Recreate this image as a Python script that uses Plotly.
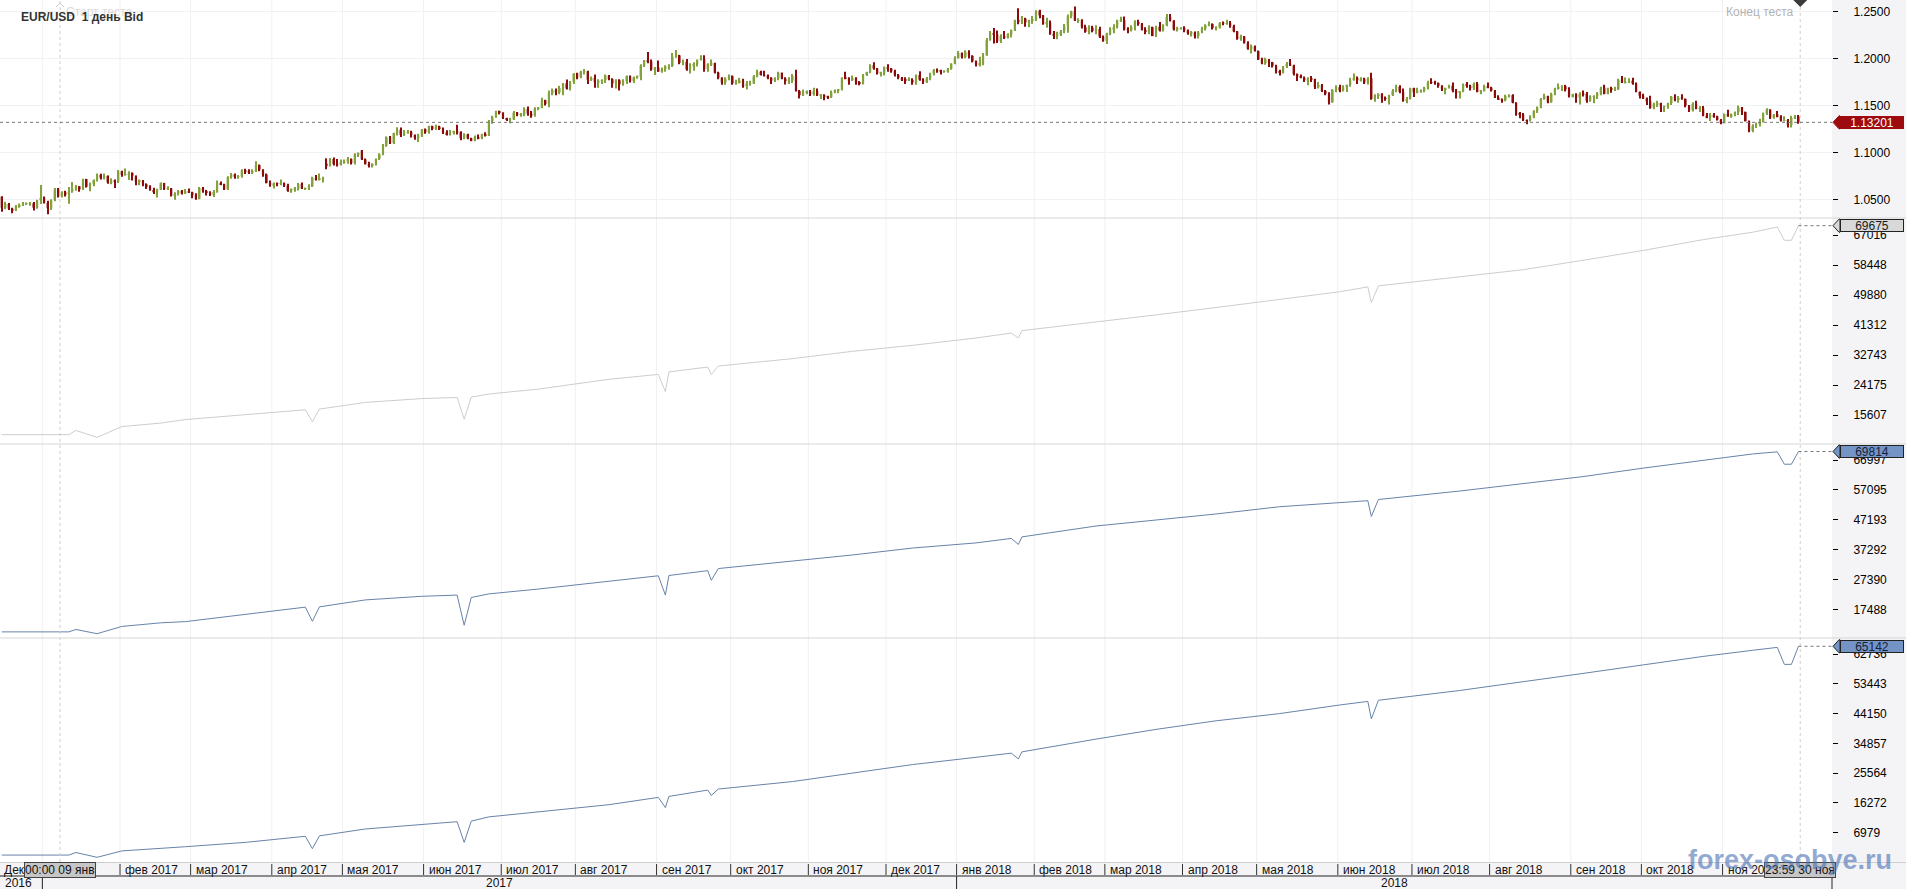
import numpy as np
import pandas as pd
import plotly.graph_objects as go

# ---------------- data ----------------
# Daily EUR/USD bars (prices in 1/10000), 15 Dec 2016 .. 30 Nov 2018, one line per month
opens = [
 10530,10410,10450,10400,10384,10428,10438,10455,10455,10457,10410,10490,
 10517,10460,10405,10490,10605,10530,10575,10555,10585,10612,10640,10605,10715,10634,10662,10705,10760,10728,10750,10680,10697,10690,
 10798,10760,10763,10782,10750,10685,10700,10660,10640,10600,10575,10605,10675,10615,10618,10540,10560,10590,10560,10585,
 10575,10545,10505,10620,10585,10570,10545,10580,10670,10660,10605,10735,10765,10740,10745,10810,10795,10785,10800,10865,10815,10765,10675,
 10650,10670,10665,10670,10645,10590,10600,10610,10665,10615,10620,10640,10730,10715,10720,10880,10855,10930,10875,10872,
 10895,10905,10930,10885,10980,11020,10925,10875,10865,10870,10930,10980,11075,11160,11100,11205,11240,11185,11210,11215,11185,11160,11180,
 11245,11215,11280,11250,11275,11255,11210,11195,11210,11220,11215,11150,11195,11150,11130,11165,11150,11195,11180,11335,11375,11440,
 11425,11365,11350,11352,11425,11400,11402,11465,11415,11395,11470,11475,11555,11515,11630,11665,11640,11685,11735,11680,11750,
 11840,11800,11860,11865,11775,11795,11750,11765,11770,11820,11780,11735,11770,11725,11760,11815,11760,11800,11805,11925,11980,11970,11885,
 11905,11860,11890,11915,11920,12020,12035,11955,11965,11885,11920,11945,11985,11995,11890,11940,11950,11850,11795,11745,11785,
 11815,11735,11745,11765,11705,11730,11735,11810,11860,11825,11820,11795,11765,11790,11850,11785,11760,11765,11815,11655,11610,11640,
 11645,11620,11655,11610,11612,11590,11588,11640,11665,11668,11795,11790,11770,11795,11745,11735,11825,11855,11930,11895,11845,11848,
 11905,11895,11865,11825,11795,11775,11770,11772,11745,11825,11775,11750,11785,11840,11875,11870,11860,11862,11890,11945,
 12005,12060,12015,12070,12030,11970,11935,11950,12035,12200,12265,12260,12185,12240,12220,12260,12300,12410,12395,12425,12385,12410,
 12415,12510,12460,12370,12380,12265,12250,12255,12290,12350,12450,12505,12405,12410,12335,12285,12330,12295,12315,12235,
 12190,12265,12315,12335,12405,12410,12310,12305,12335,12390,12370,12305,12285,12335,12240,12340,12300,12355,12445,12405,12310,12320,
 12325,12300,12270,12275,12240,12280,12320,12355,12370,12325,12330,12380,12375,12378,12345,12290,12210,12235,12165,12105,12130,
 12080,11990,11950,11990,11960,11925,11865,11850,11915,11945,11925,11835,11810,11795,11770,11790,11780,11695,11720,11655,11625,11535,11665,
 11695,11660,11695,11720,11775,11795,11770,11785,11745,11790,11570,11610,11625,11575,11570,11610,11655,11700,11645,11555,11570,
 11685,11640,11655,11658,11690,11745,11743,11740,11710,11670,11685,11710,11660,11640,11645,11720,11710,11685,11730,11645,11655,11705,
 11690,11660,11585,11565,11555,11600,11610,11530,11410,11405,11345,11342,11375,11440,11480,11570,11600,11535,11625,11680,11700,11705,11670,
 11600,11620,11585,11625,11622,11550,11595,11600,11625,11690,11625,11685,11670,11672,11775,11745,11748,11765,11735,11645,
 11605,11575,11545,11475,11515,11525,11490,11492,11525,11595,11560,11580,11570,11500,11450,11515,11465,11470,11390,11375,11400,11385,11345,
 11310,11410,11385,11405,11430,11480,11430,11335,11230,11285,11305,11325,11415,11455,11370,11405,11385,11340,11345,11290,11365,11385,
]
highs = [
 10530,10475,10460,10410,10440,10455,10470,10465,10470,10470,10495,10652,
 10530,10485,10500,10620,10620,10585,10590,10630,10685,10652,10640,10720,10718,10680,10710,10775,10772,10775,10755,10725,10710,10812,
 10805,10829,10800,10785,10753,10710,10705,10670,10650,10623,10612,10680,10675,10640,10620,10575,10600,10600,10610,10615,
 10580,10565,10630,10630,10600,10585,10600,10700,10690,10665,10745,10780,10775,10760,10820,10825,10820,10820,10906,10870,10820,10775,10700,
 10680,10680,10710,10680,10665,10615,10630,10675,10680,10625,10660,10740,10760,10775,10740,10937,10940,10945,10930,10925,
 10925,10950,10935,10990,11000,11025,10935,10900,10885,10935,10990,11090,11170,11175,11210,11268,11265,11240,11240,11230,11190,11200,11250,
 11255,11285,11285,11295,11285,11265,11235,11240,11230,11295,11225,11205,11200,11155,11180,11190,11200,11215,11345,11390,11445,11445,
 11425,11370,11370,11440,11430,11420,11480,11490,11440,11480,11485,11583,11560,11660,11680,11680,11710,11740,11777,11760,11845,
 11848,11870,11890,11870,11810,11830,11780,11780,11830,11825,11790,11780,11780,11780,11820,11820,11810,11820,11940,11985,12070,11990,11910,
 11980,11905,11930,11940,12060,12092,12040,11990,11995,11950,11960,11990,12035,12035,11950,11990,11955,11860,11800,11800,11830,
 11820,11775,11795,11785,11760,11765,11825,11880,11870,11870,11830,11800,11800,11860,11850,11800,11800,11835,11880,11665,11670,11660,
 11665,11690,11680,11615,11620,11605,11660,11670,11675,11800,11860,11800,11820,11800,11760,11835,11860,11940,11960,11900,11860,11915,
 11940,11900,11880,11835,11805,11800,11800,11790,11830,11865,11790,11805,11850,11890,11895,11880,11875,11900,11950,12025,
 12080,12065,12090,12090,12035,11980,12020,12060,12220,12295,12325,12300,12260,12295,12270,12310,12415,12537,12455,12435,12415,12455,
 12515,12520,12465,12435,12405,12295,12285,12305,12370,12470,12510,12555,12430,12420,12360,12355,12350,12355,12340,12245,
 12275,12335,12365,12415,12445,12450,12335,12355,12410,12415,12380,12335,12355,12340,12350,12390,12365,12475,12475,12410,12340,12335,
 12345,12310,12295,12290,12295,12340,12365,12395,12375,12345,12390,12395,12415,12400,12360,12295,12255,12240,12185,12150,12140,
 12085,12010,12010,11995,11965,11935,11880,11920,11965,11995,11935,11840,11830,11810,11800,11815,11785,11750,11730,11665,11640,11675,11715,
 11720,11715,11720,11795,11840,11810,11800,11795,11800,11850,11620,11630,11630,11595,11615,11675,11720,11715,11680,11590,11690,
 11690,11690,11670,11700,11765,11790,11765,11745,11715,11690,11720,11745,11675,11650,11735,11750,11720,11745,11750,11665,11720,11745,
 11700,11665,11610,11575,11615,11620,11620,11535,11430,11420,11350,11395,11450,11490,11580,11625,11605,11635,11690,11735,11715,11720,11695,
 11625,11630,11640,11660,11645,11610,11610,11645,11700,11720,11690,11700,11700,11785,11815,11800,11790,11795,11745,11650,
 11625,11585,11605,11530,11550,11530,11500,11530,11600,11620,11600,11620,11575,11505,11535,11550,11495,11495,11420,11420,11420,11390,11355,
 11415,11455,11415,11435,11500,11485,11435,11340,11300,11320,11360,11425,11470,11460,11410,11440,11395,11385,11355,11390,11400,11400,
]
lows = [
 10366,10395,10385,10352,10375,10410,10430,10440,10430,10380,10400,10450,
 10455,10340,10385,10480,10520,10520,10530,10453,10570,10592,10580,10600,10625,10587,10640,10690,10710,10710,10665,10660,10620,10675,
 10740,10750,10705,10700,10650,10650,10640,10610,10590,10557,10520,10600,10600,10600,10530,10494,10540,10550,10560,10570,
 10510,10495,10500,10570,10540,10535,10525,10570,10650,10600,10600,10720,10720,10720,10730,10770,10770,10770,10790,10800,10740,10670,10635,
 10615,10640,10650,10630,10580,10570,10580,10595,10610,10605,10600,10630,10700,10700,10680,10820,10850,10860,10850,10860,
 10880,10880,10870,10870,10950,10920,10870,10840,10840,10860,10920,10970,11060,11090,11090,11180,11165,11175,11200,11160,11135,11110,11165,
 11200,11200,11235,11240,11240,11195,11180,11180,11190,11190,11130,11140,11140,11120,11120,11140,11140,11170,11175,11305,11370,11405,
 11355,11335,11312,11345,11385,11380,11385,11390,11370,11380,11450,11470,11500,11480,11610,11610,11620,11610,11670,11660,11730,
 11780,11790,11830,11730,11760,11690,11690,11730,11740,11770,11690,11680,11660,11710,11730,11745,11740,11785,11770,11910,11950,11870,11825,
 11860,11850,11860,11880,11910,12010,11940,11930,11870,11840,11870,11915,11980,11860,11860,11920,11840,11780,11720,11720,11770,
 11720,11720,11735,11690,11670,11710,11730,11800,11820,11810,11780,11730,11750,11770,11780,11725,11730,11740,11650,11575,11600,11620,
 11600,11605,11600,11570,11555,11570,11580,11630,11630,11660,11780,11720,11760,11720,11715,11725,11815,11845,11880,11830,11810,11820,
 11860,11850,11810,11780,11760,11730,11760,11720,11720,11765,11730,11740,11770,11820,11850,11830,11850,11850,11880,11940,
 12000,12000,12005,12000,11960,11915,11915,11930,12030,12190,12160,12165,12165,12210,12215,12225,12295,12365,12370,12340,12335,12370,
 12400,12430,12360,12330,12255,12210,12205,12240,12270,12275,12430,12400,12380,12320,12275,12260,12280,12260,12220,12180,
 12155,12250,12270,12320,12390,12300,12270,12290,12300,12350,12300,12260,12260,12240,12230,12290,12290,12345,12395,12300,12290,12310,
 12280,12255,12235,12215,12215,12270,12300,12345,12310,12300,12320,12355,12360,12330,12280,12200,12190,12160,12095,12055,12075,
 11985,11940,11935,11910,11905,11840,11820,11840,11900,11920,11820,11760,11790,11750,11715,11750,11675,11680,11645,11610,11510,11530,11640,
 11640,11650,11645,11700,11765,11730,11755,11730,11725,11560,11540,11570,11530,11550,11510,11600,11640,11630,11540,11525,11565,
 11590,11630,11635,11640,11670,11730,11720,11690,11655,11620,11680,11640,11575,11575,11640,11690,11660,11665,11640,11620,11650,11685,
 11650,11580,11560,11530,11545,11585,11525,11390,11365,11335,11300,11330,11365,11420,11470,11560,11525,11530,11610,11670,11655,11650,11585,
 11585,11530,11510,11595,11530,11540,11525,11570,11610,11620,11620,11635,11655,11665,11740,11735,11745,11720,11640,11575,
 11570,11505,11465,11460,11485,11430,11430,11465,11505,11545,11530,11560,11480,11430,11435,11460,11430,11385,11365,11335,11370,11340,11300,
 11310,11380,11370,11385,11400,11400,11330,11215,11215,11260,11275,11320,11400,11355,11360,11375,11330,11330,11265,11265,11355,11305,
]
closes = [
 10410,10450,10400,10384,10428,10438,10455,10455,10457,10410,10490,10517,
 10460,10405,10490,10605,10530,10575,10555,10585,10612,10640,10605,10715,10634,10662,10705,10760,10728,10750,10680,10697,10690,10798,
 10760,10763,10782,10750,10685,10700,10660,10640,10600,10575,10605,10675,10615,10618,10540,10560,10590,10560,10585,10575,
 10545,10505,10620,10585,10570,10545,10580,10670,10660,10605,10735,10765,10740,10745,10810,10795,10785,10800,10865,10815,10765,10675,10650,
 10670,10665,10670,10645,10590,10600,10610,10665,10615,10620,10640,10730,10715,10720,10725,10855,10930,10875,10872,10895,
 10905,10930,10885,10980,10995,10925,10875,10865,10870,10930,10980,11075,11160,11100,11205,11240,11185,11210,11215,11185,11160,11180,11245,
 11215,11280,11250,11275,11255,11210,11195,11210,11220,11215,11150,11195,11150,11130,11165,11150,11195,11180,11335,11375,11440,11425,
 11365,11350,11352,11425,11400,11402,11465,11415,11395,11470,11475,11555,11515,11630,11665,11640,11685,11735,11680,11750,11840,
 11800,11860,11865,11775,11795,11750,11765,11770,11820,11780,11735,11770,11725,11760,11815,11760,11800,11805,11925,11980,11970,11885,11905,
 11860,11890,11915,11920,12020,12035,11955,11965,11885,11920,11945,11985,11995,11890,11940,11950,11850,11795,11745,11785,11815,
 11735,11745,11765,11705,11730,11735,11810,11860,11825,11820,11795,11765,11790,11850,11785,11760,11765,11815,11655,11610,11640,11645,
 11620,11655,11610,11612,11590,11588,11640,11665,11668,11795,11790,11770,11795,11745,11735,11825,11855,11930,11895,11845,11848,11905,
 11895,11865,11825,11795,11775,11770,11772,11745,11825,11775,11750,11785,11840,11875,11870,11860,11862,11890,11945,12005,
 12060,12015,12070,12030,11970,11935,11950,12035,12200,12265,12260,12185,12240,12220,12260,12300,12410,12395,12425,12385,12410,12415,
 12510,12460,12370,12380,12265,12250,12255,12290,12350,12450,12505,12405,12410,12335,12285,12330,12295,12315,12235,12190,
 12265,12315,12335,12405,12410,12310,12305,12335,12390,12370,12305,12285,12335,12240,12340,12300,12355,12445,12405,12310,12320,12325,
 12300,12270,12275,12240,12280,12320,12355,12370,12325,12330,12380,12375,12378,12345,12290,12210,12235,12165,12105,12130,12080,
 11990,11950,11990,11960,11925,11865,11850,11915,11945,11925,11835,11810,11795,11770,11790,11780,11695,11720,11655,11625,11535,11665,11695,
 11660,11695,11720,11775,11795,11770,11785,11745,11790,11570,11610,11625,11575,11570,11610,11655,11700,11645,11555,11570,11685,
 11640,11655,11658,11690,11745,11743,11740,11710,11670,11685,11710,11660,11640,11645,11720,11710,11685,11730,11645,11655,11705,11690,
 11660,11585,11565,11555,11600,11610,11530,11410,11405,11345,11342,11375,11440,11480,11570,11600,11535,11625,11680,11700,11705,11670,11600,
 11620,11585,11625,11622,11550,11595,11600,11625,11690,11625,11685,11670,11672,11775,11745,11748,11765,11735,11645,11605,
 11575,11545,11475,11515,11525,11490,11492,11525,11595,11560,11580,11570,11500,11450,11515,11465,11470,11390,11375,11400,11385,11345,11310,
 11410,11385,11405,11430,11480,11430,11335,11230,11285,11305,11325,11415,11455,11370,11405,11385,11340,11345,11290,11365,11385,11320,
]
holidays = ["2017-12-25", "2018-01-01"]
first_day, last_day = "2016-12-15", "2018-11-30"

last_price = 1.13201
price_ticks = [1.05, 1.10, 1.15, 1.20, 1.25]

# equity curves (three test runs), sampled on trading-day numbers
eq_day = [0, 19, 21, 27, 34, 45, 52, 69, 83, 86, 88, 90, 103, 119, 129, 131, 133, 138, 152, 162,
          172, 186, 188, 189, 200, 201, 203, 224, 241, 258, 276, 286, 288, 289, 310, 327, 344, 362, 379, 387,
          388, 390, 413, 431, 448, 465, 482, 496, 503, 505, 507, 509]
eq_a = [10000, 10000, 11200, 9200, 12300, 13300, 14300, 15700, 16800, 17100, 13700, 17300, 19200, 20300, 20600, 14400, 20700, 21600, 23000, 24400,
        25800, 27200, 22300, 27900, 29300, 27200, 29600, 31700, 33800, 35500, 37600, 39000, 37600, 39700, 42100, 44200, 46300, 48700, 50800, 52200,
        47700, 52500, 55000, 57100, 59800, 62600, 65700, 67800, 69300, 65500, 65500, 69675]
eq_b = [10000, 10000, 10800, 9400, 11800, 13000, 13400, 15800, 18000, 18200, 13500, 18300, 20600, 21800, 22200, 12200, 21400, 22600, 24200, 25500,
        26600, 28600, 22200, 28700, 30300, 27100, 31000, 33500, 35500, 37800, 39500, 41000, 39000, 41500, 45100, 47100, 49100, 51500, 52700, 53500,
        48300, 53900, 56700, 59100, 61500, 64300, 67000, 69000, 69700, 65600, 65600, 69814]
eq_c = [0, 0, 800, -700, 1300, 2000, 2600, 3955, 5400, 5858, 2000, 6000, 8136, 9500, 10414, 3955, 10600, 11911, 13440, 14500,
        15718, 17995, 14800, 18300, 20273, 18600, 20600, 22925, 25577, 28229, 30506, 31800, 30000, 32200, 36185, 39211, 41894, 44141, 46824, 47947,
        42500, 48300, 51348, 54031, 56683, 59335, 61987, 63890, 64800, 59500, 59500, 65142]
eq_a_ticks = [15607, 24175, 32743, 41312, 49880, 58448, 67016]
eq_b_ticks = [17488, 27390, 37292, 47193, 57095, 66997]
eq_c_ticks = [6979, 16272, 25564, 34857, 44150, 53443, 62736]

month_names = ["янв", "фев", "мар", "апр", "мая", "июн", "июл", "авг", "сен", "окт", "ноя", "дек"]
test_start_day, test_end_day = 17, 509
start_label, end_label = "00:00 09 янв", "23:59 30 ноя"
title_text = "EUR/USD\u00a0\u00a01 день Bid"

# ---------------- layout helpers ----------------
W, H = 1906, 889
PR = 1832                      # right edge of plotting area (px)
FONT = "Liberation Sans, Arial, sans-serif"
GREEN, RED = "#84a23c", "#8c0b0b"
GRID = "#f1f1f3"


def fx(p):
    return p / W


def fy(p):
    return 1 - p / H


dates = [d for d in pd.bdate_range(first_day, last_day) if d.strftime("%Y-%m-%d") not in holidays]
n = min(len(dates), len(opens), len(highs), len(lows), len(closes))
xs = np.arange(n)
o = np.array(opens[:n]) / 1e4
h = np.array(highs[:n]) / 1e4
l = np.array(lows[:n]) / 1e4
c = np.array(closes[:n]) / 1e4
cols = np.where(c >= o, GREEN, RED)
x_lo, x_hi = -0.5, 518.5

fig = go.Figure()
fig.add_trace(go.Bar(x=xs, y=h - l, base=l, width=0.3, marker=dict(color=cols, line=dict(width=0)),
                     xaxis="x", yaxis="y", hoverinfo="skip"))
fig.add_trace(go.Bar(x=xs, y=np.maximum(np.abs(c - o), 0.0003), base=np.minimum(o, c), width=0.62,
                     marker=dict(color=cols, line=dict(width=0)), xaxis="x", yaxis="y", hoverinfo="skip"))
fig.add_trace(go.Scatter(x=eq_day, y=eq_a, mode="lines", line=dict(color="#cdcdcd", width=1),
                         xaxis="x", yaxis="y2", hoverinfo="skip"))
fig.add_trace(go.Scatter(x=eq_day, y=eq_b, mode="lines", line=dict(color="#6783a8", width=1),
                         xaxis="x", yaxis="y3", hoverinfo="skip"))
fig.add_trace(go.Scatter(x=eq_day, y=eq_c, mode="lines", line=dict(color="#6783a8", width=1),
                         xaxis="x", yaxis="y4", hoverinfo="skip"))


def yax(dom, rng, vals, texts, grid=False):
    return dict(domain=dom, range=rng, anchor="x", side="right", tickvals=vals, ticktext=texts,
                ticks="outside", ticklen=5, tickwidth=1, tickcolor="#000", showline=False, zeroline=False,
                showgrid=grid, gridcolor=GRID, gridwidth=1, ticklabelstandoff=13,
                tickfont=dict(family=FONT, size=12, color="#000"), fixedrange=True)


fig.update_layout(
    width=W, height=H, margin=dict(l=0, r=0, t=0, b=0, pad=0),
    paper_bgcolor="#f4f4f7", plot_bgcolor="rgba(0,0,0,0)",
    barmode="overlay", showlegend=False, hovermode=False,
    xaxis=dict(domain=[0, fx(PR)], range=[x_lo, x_hi], anchor="y4", visible=False, fixedrange=True),
    yaxis=yax([fy(218), 1], [1.03006, 1.26247], price_ticks, [f"{v:.4f}" for v in price_ticks], grid=True),
    yaxis2=yax([fy(444), fy(218)], [7325, 71871], eq_a_ticks, [str(v) for v in eq_a_ticks]),
    yaxis3=yax([fy(638), fy(444)], [7971, 72303], eq_b_ticks, [str(v) for v in eq_b_ticks]),
    yaxis4=yax([fy(862), fy(638)], [-2163, 67728], eq_c_ticks, [str(v) for v in eq_c_ticks]),
)

shapes = []
# white chart background
shapes.append(dict(type="rect", xref="paper", yref="paper", x0=0, x1=fx(PR), y0=fy(862), y1=1,
                   fillcolor="#ffffff", line=dict(width=0), layer="below"))
# month boundaries
month_starts = [i for i in range(1, n) if dates[i].month != dates[i - 1].month]
for i in month_starts:
    shapes.append(dict(type="line", xref="x", yref="paper", x0=i - 0.5, x1=i - 0.5, y0=fy(862), y1=1,
                       line=dict(color=GRID, width=1), layer="below"))
# panel separators
for yy in (218, 444, 638):
    shapes.append(dict(type="line", xref="paper", yref="paper", x0=0, x1=1, y0=fy(yy), y1=fy(yy),
                       line=dict(color="#d6d6d6", width=1)))
shapes.append(dict(type="line", xref="paper", yref="paper", x0=0, x1=1, y0=fy(862.5), y1=fy(862.5),
                   line=dict(color="#cfcfcf", width=1)))
# test start / end verticals
for xv in (test_start_day - 0.5, test_end_day + 0.5):
    shapes.append(dict(type="line", xref="x", yref="paper", x0=xv, x1=xv, y0=fy(862), y1=1,
                       line=dict(color="#cfcfcf", width=1, dash="dot")))
# last price / equity dotted lines
shapes.append(dict(type="line", xref="x", yref="y", x0=x_lo, x1=x_hi, y0=last_price, y1=last_price,
                   line=dict(color="#777", width=1, dash="dot")))
for ax, arr in (("y2", eq_a), ("y3", eq_b), ("y4", eq_c)):
    shapes.append(dict(type="line", xref="x", yref=ax, x0=eq_day[-1], x1=x_hi, y0=arr[-1], y1=arr[-1],
                       line=dict(color="#777", width=1, dash="dot")))
# notches of value labels
for ax, val, fill in (("y", last_price, "#9e0b0f"), ("y2", eq_a[-1], "#d9d9d9"),
                      ("y3", eq_b[-1], "#7394c4"), ("y4", eq_c[-1], "#7394c4")):
    edge = fill if ax == "y" else "#222"
    shapes.append(dict(type="path", xref="paper", yref=ax, xsizemode="pixel", ysizemode="pixel",
                       xanchor=fx(PR), yanchor=val, path="M 1,0 L 7,6.5 L 8,6.5 L 8,-6.5 L 7,-6.5 Z",
                       fillcolor=fill, line=dict(color=edge, width=1)))
# end-of-test diamond and start chevron
shapes.append(dict(type="path", xref="x", yref="paper", xsizemode="pixel", ysizemode="pixel",
                   xanchor=test_end_day + 0.5, yanchor=1, path="M -7,0 L 0,7 L 7,0 L 0,-7 Z",
                   fillcolor="#3c3c3c", line=dict(width=0)))
shapes.append(dict(type="path", xref="x", yref="paper", xsizemode="pixel", ysizemode="pixel",
                   xanchor=test_start_day - 0.5, yanchor=fy(2), path="M -4,-5 L 0,-1 L 4,-5",
                   line=dict(color="#c8c8c8", width=1)))
# x-axis rows
for i in month_starts:
    shapes.append(dict(type="line", xref="x", yref="paper", x0=i - 0.5, x1=i - 0.5, y0=fy(875), y1=fy(864),
                       line=dict(color="#333", width=1)))
shapes.append(dict(type="line", xref="paper", yref="paper", x0=0, x1=fx(PR), y0=fy(876), y1=fy(876),
                   line=dict(color="#222", width=1)))
year_starts = [i for i in range(1, n) if dates[i].year != dates[i - 1].year]
for i in year_starts:
    shapes.append(dict(type="line", xref="x", yref="paper", x0=i - 0.5, x1=i - 0.5, y0=fy(889), y1=fy(876),
                       line=dict(color="#222", width=1)))
shapes.append(dict(type="line", xref="paper", yref="paper", x0=fx(PR), x1=fx(PR), y0=fy(889), y1=fy(876),
                   line=dict(color="#222", width=1)))
fig.update_layout(shapes=shapes)

ann = []
small = dict(family=FONT, size=12, color="#111")
ann.append(dict(text="Старт теста", xref="x", yref="paper", x=test_start_day - 0.5, y=fy(12), xshift=4,
                xanchor="left", yanchor="middle", showarrow=False, font=dict(family=FONT, size=12, color="#dadada")))
ann.append(dict(text="<b>" + title_text + "</b>", xref="paper", yref="paper", x=fx(19), y=fy(17),
                xanchor="left", yanchor="middle", showarrow=False,
                font=dict(family=FONT, size=12, color="#333333")))
ann.append(dict(text="Конец теста", xref="x", yref="paper", x=test_end_day + 0.5, y=fy(12), xshift=-4,
                xanchor="right", yanchor="middle", showarrow=False, font=dict(family=FONT, size=12, color="#b4b4b4")))
# value labels
for ax, val, txt, fill, tcol in (("y", last_price, f"{last_price:.5f}", "#9e0b0f", "#ffffff"),
                                 ("y2", eq_a[-1], str(eq_a[-1]), "#d9d9d9", "#1a1a1a"),
                                 ("y3", eq_b[-1], str(eq_b[-1]), "#7394c4", "#13223d"),
                                 ("y4", eq_c[-1], str(eq_c[-1]), "#7394c4", "#13223d")):
    ann.append(dict(text=txt, xref="paper", yref=ax, x=fx(PR + 8), y=val, xanchor="left", yanchor="middle",
                    showarrow=False, width=62, height=11, borderpad=0, bgcolor=fill,
                    bordercolor=fill if ax == "y" else "#222", borderwidth=1,
                    font=dict(family=FONT, size=12, color=tcol)))
# month labels
ann.append(dict(text="Дек 2016", xref="paper", yref="paper", x=fx(2), y=fy(869.5), xanchor="left",
                yanchor="middle", showarrow=False, font=small))
for i in month_starts:
    d = dates[i]
    ann.append(dict(text=f"{month_names[d.month - 1]} {d.year}", xref="x", yref="paper", x=i - 0.5, xshift=3,
                    y=fy(869.5), xanchor="left", yanchor="middle", showarrow=False, font=small))
# year labels
ann.append(dict(text=str(dates[0].year), xref="paper", yref="paper", x=fx(3), y=fy(883), xanchor="left",
                yanchor="middle", showarrow=False, font=small))
bounds = [x_lo] + [i - 0.5 for i in year_starts] + [x_hi]
for k, i in enumerate(year_starts):
    ann.append(dict(text=str(dates[i].year), xref="x", yref="paper", x=(bounds[k + 1] + bounds[k + 2]) / 2,
                    y=fy(883), xanchor="center", yanchor="middle", showarrow=False, font=small))
# test start / end boxes
for xv, txt in ((test_start_day - 0.5, start_label), (test_end_day + 0.5, end_label)):
    ann.append(dict(text=txt, xref="x", yref="paper", x=xv, y=fy(869.5), xanchor="center", yanchor="middle",
                    showarrow=False, bgcolor="#c6c6c6", bordercolor="#444", borderwidth=1, borderpad=0,
                    font=small))
# watermark
ann.append(dict(text="<b>forex-osobye.ru</b>", xref="paper", yref="paper", x=fx(1790), y=fy(860),
                xanchor="center", yanchor="middle", showarrow=False,
                font=dict(family=FONT, size=27, color="rgba(72,112,178,0.6)")))
fig.update_layout(annotations=ann)

fig.write_html("out.html", config={"displayModeBar": False},
               post_script="document.body.style.margin='0px';")
